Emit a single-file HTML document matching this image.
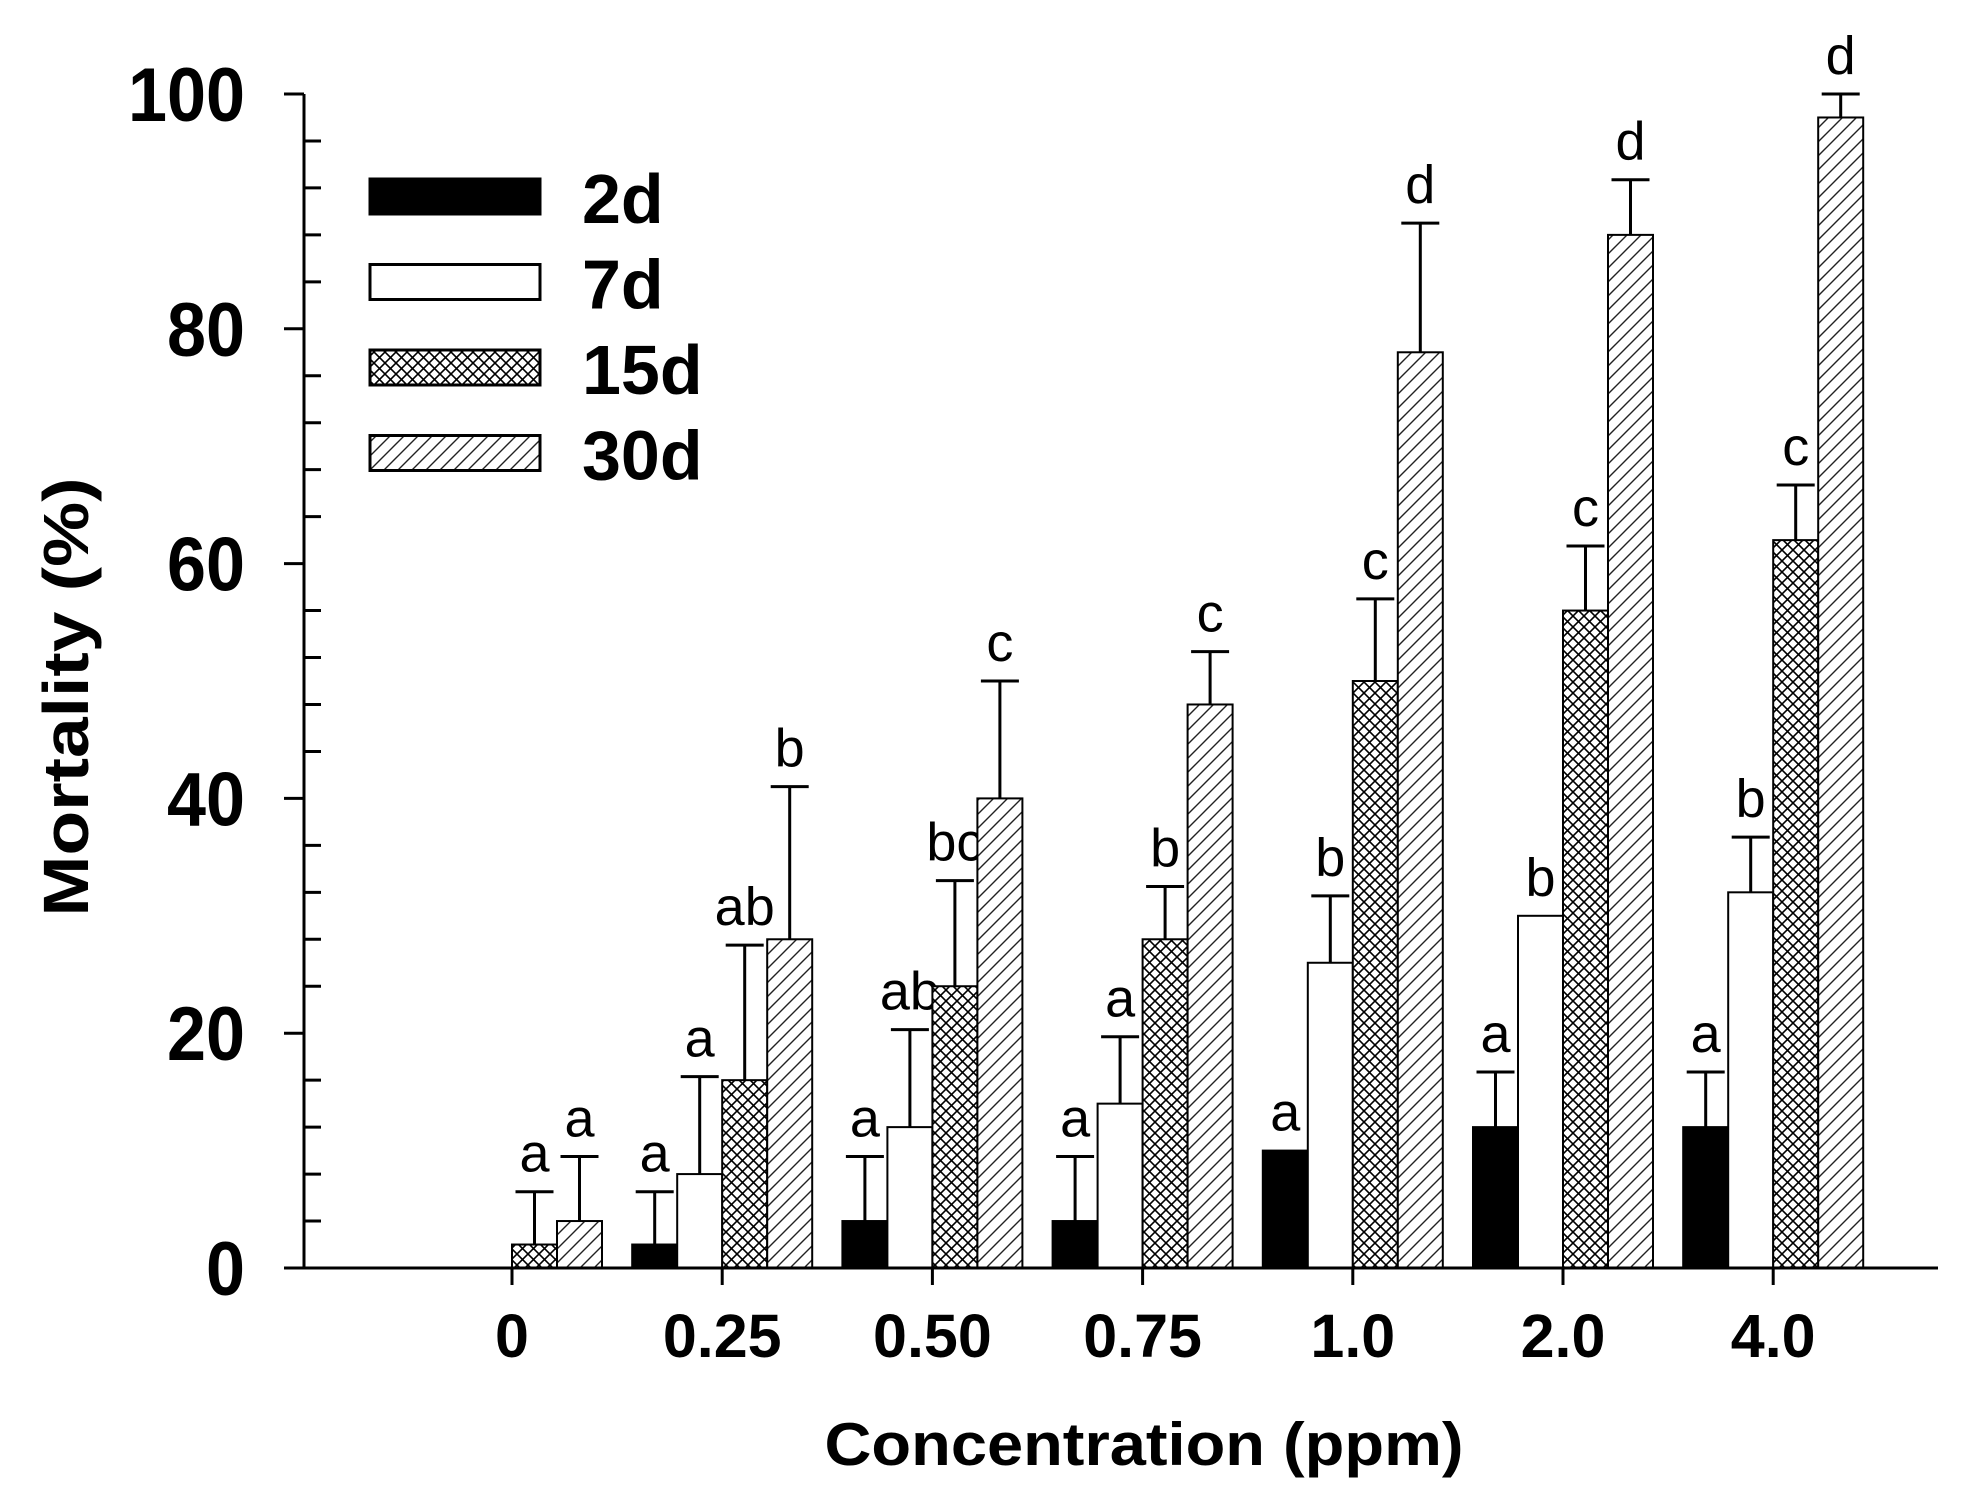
<!DOCTYPE html>
<html><head><meta charset="utf-8">
<style>
body{margin:0;background:#fff;}
svg{display:block;font-family:"Liberation Sans",Arial,sans-serif;}
</style></head>
<body>
<svg id="chart" width="1968" height="1506" viewBox="0 0 1968 1506" xmlns="http://www.w3.org/2000/svg">
<defs>
<pattern id="cross" patternUnits="userSpaceOnUse" width="11" height="11">
<rect width="11" height="11" fill="#fff"/>
<path d="M0,0 L11,11 M11,0 L0,11" stroke="#000" stroke-width="1.6"/>
</pattern>
<pattern id="hatch" patternUnits="userSpaceOnUse" width="14" height="14">
<rect width="14" height="14" fill="#fff"/>
<path d="M-3,3 L3,-3 M0,14 L14,0 M11,17 L17,11" stroke="#222" stroke-width="1.4"/>
</pattern>
</defs>
<g id="plot"></g>
</svg>
<script>
const categories = ["0","0.25","0.50","0.75","1.0","2.0","4.0"];
const seriesNames = ["2d","7d","15d","30d"];
const values2d  = [0, 2, 4, 4, 10, 12, 12];
const values7d  = [0, 8, 12, 14, 26, 30, 32];
const values15d = [2, 16, 24, 28, 50, 56, 62];
const values30d = [4, 28, 40, 48, 78, 88, 98];
const err2d  = [null, 6.5, 9.5, 9.5, null, 16.7, 16.7];
const err7d  = [null, 16.3, 20.3, 19.7, 31.7, null, 36.7];
const err15d = [6.5, 27.5, 33, 32.5, 57, 61.5, 66.7];
const err30d = [9.5, 41, 50, 52.5, 89, 92.7, 100];
const letters2d  = ["", "a", "a", "a", "a", "a", "a"];
const letters7d  = ["", "a", "ab", "a", "b", "b", "b"];
const letters15d = ["a", "ab", "bc", "b", "c", "c", "c"];
const letters30d = ["a", "b", "c", "c", "d", "d", "d"];
const yTicks = [0, 20, 40, 60, 80, 100];

const NS = "http://www.w3.org/2000/svg";
const g = document.getElementById("plot");
const X0 = 304, Y0 = 1268, Y100 = 94, XEND = 1938;
function yScale(v){ return Y0 - v * (Y0 - Y100) / 100; }
function xTick(i){ return 512 + i * 210.2; }
const BW = 45;
function el(tag, attrs, parent){ const e = document.createElementNS(NS, tag); for (const k in attrs) e.setAttribute(k, attrs[k]); (parent||g).appendChild(e); return e; }

const vals = [values2d, values7d, values15d, values30d];
const errs = [err2d, err7d, err15d, err30d];
const lets = [letters2d, letters7d, letters15d, letters30d];
const fills = ["#000", "#fff", "url(#cross)", "url(#hatch)"];

categories.forEach((c, i) => {
  for (let s = 0; s < 4; s++) {
    const v = vals[s][i];
    const x = xTick(i) - 90 + s * BW;
    const cx = x + BW / 2;
    if (v > 0) {
      const r = el("rect", {x: x, y: yScale(v), width: BW, height: Y0 - yScale(v), fill: fills[s], stroke: "#000", "stroke-width": 2});
      
      
    }
    const e = errs[s][i];
    let topY = yScale(v);
    if (e !== null) {
      const ey = yScale(e);
      const ln = el("path", {d: `M${cx},${yScale(v)} V${ey} M${cx-19},${ey} H${cx+19}`, stroke: "#000", "stroke-width": 3, fill: "none"});
      
      
      topY = ey;
    }
    const L = lets[s][i];
    if (L) {
      const t = el("text", {x: cx, y: topY - 20, "text-anchor": "middle", "font-size": 54});
      t.textContent = L;
      
      
    }
  }
  const tk = el("line", {x1: xTick(i), x2: xTick(i), y1: Y0, y2: Y0 + 17, stroke: "#000", "stroke-width": 3});
  
  
  const tl = el("text", {x: xTick(i), y: 1357, "text-anchor": "middle", "font-size": 61, "font-weight": "bold"});
  tl.textContent = c;
  
  
});

// axes
const xa = el("line", {x1: X0, x2: XEND, y1: Y0, y2: Y0, stroke: "#000", "stroke-width": 3});


const ya = el("line", {x1: X0, x2: X0, y1: Y100, y2: Y0 + 1.5, stroke: "#000", "stroke-width": 3});


for (let v = 0; v <= 100; v += 4) {
  if (v % 20 === 0) continue;
  const m = el("line", {x1: X0, x2: X0 + 17, y1: yScale(v), y2: yScale(v), stroke: "#000", "stroke-width": 3});
  
  
}
yTicks.forEach(v => {
  const m = el("line", {x1: X0 - 20, x2: X0, y1: yScale(v), y2: yScale(v), stroke: "#000", "stroke-width": 3});
  
  
  const w = String(v).length * 39;
  const t = el("text", {x: 245, y: yScale(v) + 27, "text-anchor": "end", "font-size": 76, "font-weight": "bold", textLength: w, lengthAdjust: "spacingAndGlyphs"});
  t.textContent = v;
  
  
});

// legend
seriesNames.forEach((n, s) => {
  const y = 179 + s * 85.5;
  const r = el("rect", {x: 370, y: y, width: 170, height: 35, fill: fills[s], stroke: "#000", "stroke-width": 3});
  
  
  const t = el("text", {x: 582, y: y + 44, "font-size": 70, "font-weight": "bold"});
  t.textContent = n;
  
  
});

// titles
const yt = el("text", {x: 0, y: 0, transform: "translate(88,697) rotate(-90)", "text-anchor": "middle", "font-size": 64, "font-weight": "bold", textLength: 439, lengthAdjust: "spacingAndGlyphs"});
yt.textContent = "Mortality (%)";


const xt = el("text", {x: 1144, y: 1465, "text-anchor": "middle", "font-size": 60, "font-weight": "bold", textLength: 639, lengthAdjust: "spacingAndGlyphs"});
xt.textContent = "Concentration (ppm)";


</script>
</body></html>
